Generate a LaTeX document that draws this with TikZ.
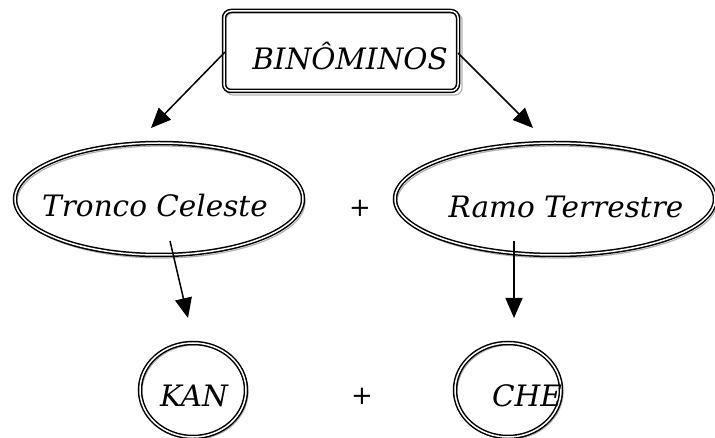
\documentclass[tikz,border=0pt]{standalone}
\usepackage{fontspec}
\setmainfont{DejaVu Serif}
\usetikzlibrary{arrows.meta,shapes.geometric}
\tikzset{
  dbl/.style={draw=black, line width=1.5pt, double=white, double distance=1.5pt},
  shade/.style={draw=gray!60, line width=1.2pt},
  lbl/.style={font=\fontsize{29.5}{34}\selectfont\itshape, inner sep=0pt},
  plus/.style={font=\fontsize{26}{30}\selectfont, inner sep=0pt},
  arr/.style={line width=1.5pt, -{Triangle[length=20pt,width=17pt]}},
  ell/.style={ellipse, dbl, inner sep=0pt},
}
\begin{document}
\begin{tikzpicture}[x=1pt,y=-1pt]
\useasboundingbox (0,0) rectangle (715,438);
% shadows
\draw[shade, rounded corners=7pt] (226,13) rectangle (462,95);
\draw[shade] (161,202) ellipse [x radius=144, y radius=56];
\draw[shade] (557,202) ellipse [x radius=160, y radius=56];
\draw[shade] (195,392) ellipse [x radius=53, y radius=47];
\draw[shade] (510,392) ellipse [x radius=53, y radius=47];
% main shapes
\node[dbl, rounded corners=7pt, minimum width=234pt, minimum height=80pt, inner sep=0pt] (b) at (341,51) {};
\node[ell, minimum width=288pt, minimum height=112pt] (tc) at (159,199) {};
\node[ell, minimum width=320pt, minimum height=112pt] (rt) at (555,199) {};
\node[ell, minimum width=106pt, minimum height=94pt] (kan) at (193,390) {};
\node[ell, minimum width=106pt, minimum height=94pt] (che) at (508,390) {};
% texts
\node[lbl] (bt) at (350,56) {BINÔMINOS};
\node[lbl] (tct) at (155,206) {Tronco Celeste};
\node[lbl] (rtt) at (566,207) {Ramo Terrestre};
\node[lbl] (kant) at (194,396) {KAN};
\node[lbl] (chet) at (527,396) {CHE};
\node[plus] (p1) at (360,208) {+};
\node[plus] (p2) at (362,396) {+};
% connectors
\coordinate (s1) at (225,52);
\coordinate (e1) at (151,128);
\coordinate (s2) at (458,53);
\coordinate (e2) at (533,128);
\coordinate (s3) at (170,241);
\coordinate (e3) at (188,318);
\coordinate (s4) at (514,241);
\coordinate (e4) at (514,318);
\draw[arr] (s1) -- (e1);
\draw[arr] (s2) -- (e2);
\draw[arr] (s3) -- (e3);
\draw[arr] (s4) -- (e4);
\end{tikzpicture}
\end{document}
